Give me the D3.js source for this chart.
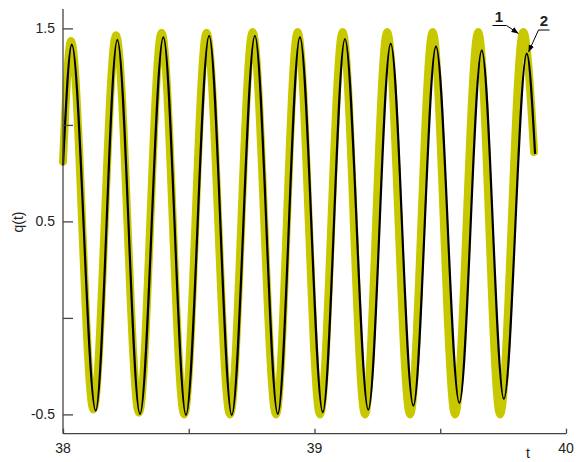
<!DOCTYPE html>
<html>
<head>
<meta charset="utf-8">
<script src="https://cdn.jsdelivr.net/npm/d3@7"></script>
<style>
  body { margin: 0; background: #fff; }
  text { font-family: "Liberation Sans", Arial, sans-serif; fill: #222; }
</style>
</head>
<body>
<svg></svg>
<script>
let width = 583;
let height = 462;

// curve 1 (thick): start, alternating peaks / troughs, end
let t1 = [38.0, 38.032, 38.121, 38.211, 38.302, 38.392, 38.482, 38.571, 38.664, 38.754, 38.847,
          38.933, 39.022, 39.112, 39.201, 39.289, 39.380, 39.470, 39.559, 39.651, 39.738, 39.830, 39.873];
let q1 = [0.81, 1.435, -0.474, 1.464, -0.491, 1.478, -0.50, 1.478, -0.50, 1.481, -0.50,
          1.481, -0.50, 1.481, -0.50, 1.481, -0.50, 1.481, -0.50, 1.481, -0.50, 1.481, 0.86];

// curve 2 (thin)
let t2 = [38.0, 38.035, 38.130, 38.216, 38.306, 38.399, 38.489, 38.581, 38.671, 38.763, 38.854,
          38.942, 39.033, 39.121, 39.214, 39.303, 39.393, 39.483, 39.576, 39.665, 39.753, 39.844, 39.877];
let q2 = [0.79, 1.416, -0.481, 1.441, -0.498, 1.455, -0.503, 1.462, -0.503, 1.462, -0.498,
          1.455, -0.489, 1.445, -0.476, 1.421, -0.455, 1.407, -0.441, 1.386, -0.420, 1.369, 0.85];

let xTicks = [38, 38.5, 39, 39.5, 40];
let xLabels = ["38", "", "39", "", "40"];
let yTicks = [-0.5, 0, 0.5, 1, 1.5];
let yLabels = ["-0.5", "", "0.5", "", "1.5"];

let svg = d3.select("svg")
  .attr("width", width)
  .attr("height", height);

let x = d3.scaleLinear().domain([38, 40]).range([63, 566]);
let y = d3.scaleLinear().domain([-0.6, 1.6]).range([433.7, 9.1]);

let line = d3.line()
  .x(d => x(d[0]))
  .y(d => y(d[1]))
  .curve(d3.curveMonotoneX);

// curves
svg.append("path")
  .datum(d3.zip(t1, q1))
  .attr("d", line)
  .attr("fill", "none")
  .attr("stroke", "#c8c800")
  .attr("stroke-width", 8)
  .attr("stroke-linecap", "round")
  .attr("stroke-linejoin", "round");

svg.append("path")
  .datum(d3.zip(t2, q2))
  .attr("d", line)
  .attr("fill", "none")
  .attr("stroke", "#000")
  .attr("stroke-width", 2.2);

// axes
let xAxis = svg.append("g")
  .attr("transform", "translate(0," + y(-0.6) + ")")
  .call(d3.axisTop(x).tickValues(xTicks).tickSize(5).tickFormat(""));
xAxis.select(".domain").attr("d", "M" + x(38) + ",0H" + x(40));
xAxis.selectAll("line, path").attr("stroke", "#444").attr("stroke-width", 1.3);

xAxis.selectAll(".lbl")
  .data(xTicks)
  .enter().append("text")
    .attr("x", d => x(d))
    .attr("y", 19)
    .style("text-anchor", "middle")
    .style("font-size", "14px")
    .text((d, i) => xLabels[i]);

let yAxis = svg.append("g")
  .attr("transform", "translate(" + x(38) + ",0)")
  .call(d3.axisRight(y).tickValues(yTicks).tickSize(10).tickFormat(""));
yAxis.select(".domain").attr("d", "M0," + y(1.6) + "V" + y(-0.6));
yAxis.selectAll("line, path").attr("stroke", "#444").attr("stroke-width", 1.3);

yAxis.selectAll(".lbl")
  .data(yTicks)
  .enter().append("text")
    .attr("x", -8)
    .attr("y", d => y(d))
    .attr("dy", "0.35em")
    .style("text-anchor", "end")
    .style("font-size", "14px")
    .text((d, i) => yLabels[i]);

// axis titles
svg.append("text")
  .attr("x", 528)
  .attr("y", 458)
  .style("text-anchor", "middle")
  .style("font-size", "14px")
  .text("t");

svg.append("text")
  .attr("transform", "translate(23,222) rotate(-90)")
  .style("text-anchor", "middle")
  .style("font-size", "14px")
  .text("q(t)");

// curve labels with arrows
let defs = svg.append("defs");
defs.append("marker")
  .attr("id", "arrow")
  .attr("viewBox", "0 0 10 10")
  .attr("refX", 10)
  .attr("refY", 5)
  .attr("markerWidth", 7)
  .attr("markerHeight", 7)
  .attr("orient", "auto")
  .append("path")
    .attr("d", "M0,1L10,5L0,9Z")
    .attr("fill", "#000");

svg.append("path")
  .attr("d", "M492.5,25.5H506.5L518.5,33.5")
  .attr("fill", "none")
  .attr("stroke", "#000")
  .attr("stroke-width", 1)
  .attr("marker-end", "url(#arrow)");

svg.append("path")
  .attr("d", "M549.5,30H538.5L528.5,52")
  .attr("fill", "none")
  .attr("stroke", "#000")
  .attr("stroke-width", 1)
  .attr("marker-end", "url(#arrow)");

svg.append("text")
  .attr("x", 499)
  .attr("y", 22)
  .style("text-anchor", "middle")
  .style("font-size", "15px")
  .style("font-weight", "bold")
  .text("1");

svg.append("text")
  .attr("x", 544)
  .attr("y", 26)
  .style("text-anchor", "middle")
  .style("font-size", "15px")
  .style("font-weight", "bold")
  .text("2");
</script>
</body>
</html>
